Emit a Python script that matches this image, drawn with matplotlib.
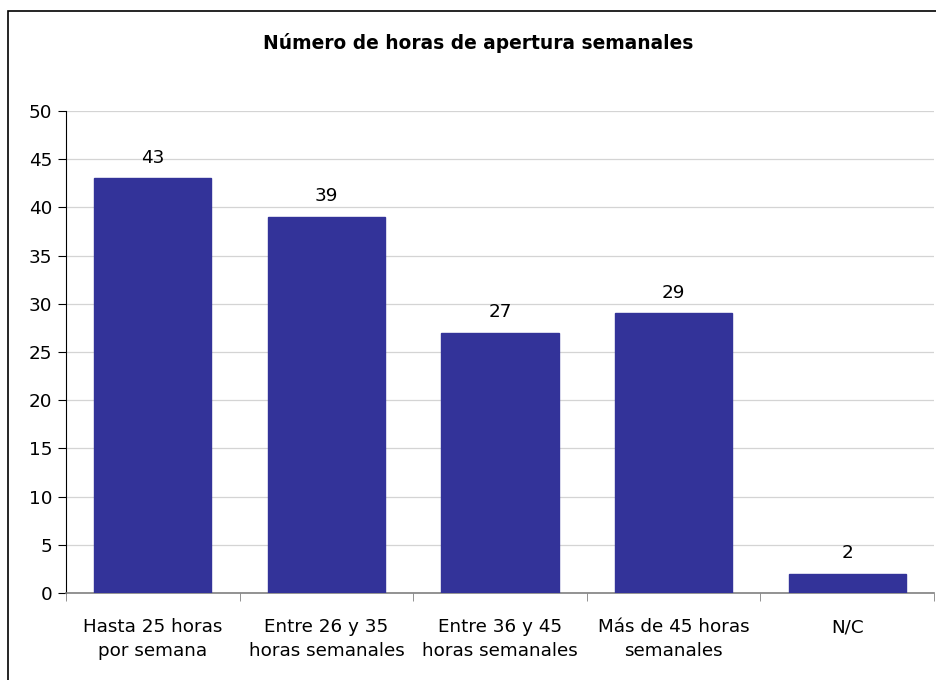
import matplotlib.pyplot as plt
import matplotlib.patches as mpatches
import numpy as np

categorias = ["Hasta 25 horas\npor semana", "Entre 26 y 35\nhoras semanales",
              "Entre 36 y 45\nhoras semanales", "Más de 45 horas\nsemanales", "N/C"]
valores = [43, 39, 27, 29, 2]
titulo = "Número de horas de apertura semanales"

plt.rcParams['font.family'] = ['DejaVu Sans']

fig = plt.figure(figsize=(9.36, 6.8), dpi=100)
# marco del grafico (solo izquierda y arriba se ven en la imagen)
fig.patches.append(mpatches.Rectangle((8/936, -0.1), 1.1, 1 - 11/680 + 0.1,
                                      transform=fig.transFigure, fill=False,
                                      edgecolor='black', linewidth=1.2))

ax = fig.add_axes([66/936, 1 - 593/680, (934 - 66)/936, (593 - 111)/680])
x = np.arange(len(valores))
bars = ax.bar(x, valores, width=0.675, color='#333399', edgecolor='#333399', zorder=3)
for b, v in zip(bars, valores):
    ax.text(b.get_x() + b.get_width()/2, v + 1.2, str(v), ha='center', va='bottom',
            fontsize=13.2, zorder=4)

ax.set_xlim(-0.5, len(valores) - 0.5)
ax.set_ylim(0, 50)
ax.set_yticks(np.arange(0, 51, 5))
ax.yaxis.grid(True, color='#d4d4d4', linewidth=0.9, zorder=0)
ax.set_axisbelow(True)

ax.set_xticks(x)
ax.set_xticklabels(categorias, fontsize=13.2, linespacing=1.4)
ax.set_xticks(np.arange(-0.5, len(valores)), minor=True)
ax.tick_params(axis='x', which='major', length=0, pad=18)
ax.tick_params(axis='x', which='minor', length=6, color='#808080', direction='out')
ax.tick_params(axis='y', length=6, labelsize=13.2, direction='out', pad=4)

for s in ['top', 'right']:
    ax.spines[s].set_visible(False)
ax.spines['left'].set_color('black')
ax.spines['bottom'].set_color('#808080')
ax.spines['bottom'].set_linewidth(1.2)

fig.text(478/936, 1 - 43/680, titulo, ha='center', va='center', fontsize=13.4,
         fontweight='bold')

fig.savefig('out.png', dpi=100)
